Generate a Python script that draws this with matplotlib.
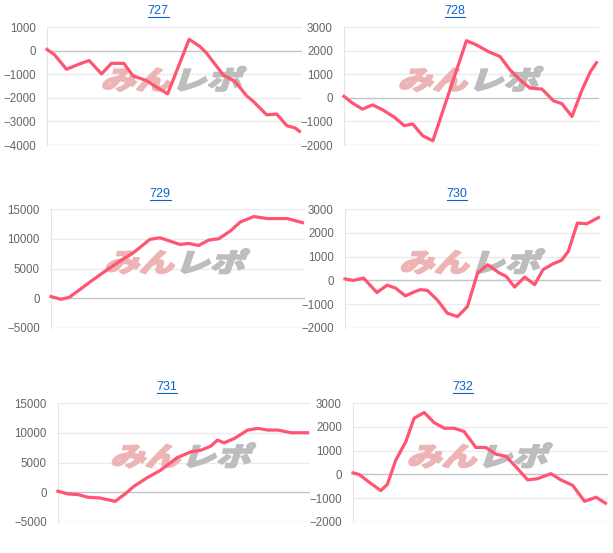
import matplotlib
matplotlib.use("Agg")
import matplotlib.pyplot as plt
from matplotlib.textpath import TextPath
from matplotlib.font_manager import FontProperties
from matplotlib.patches import PathPatch
from matplotlib.path import Path
from matplotlib.transforms import Affine2D, IdentityTransform
from matplotlib.lines import Line2D

W, H = 613, 553

# machine numbers
names = ["727", "728", "729", "730", "731", "732"]

# x: progress through the day (0-100), y: coin difference
x727 = [0, 3, 7.7, 13, 16.7, 21.6, 25.5, 30.4, 34.1, 39.4, 43.4, 47.8, 56.3, 60.6,
        63.2, 69.8, 74.5, 79.1, 81.7, 87, 91, 95, 98.3, 100]
y727 = [50, -180, -790, -560, -420, -990, -540, -540, -1070, -1270, -1550, -1830, 480, 170,
        -110, -1030, -1310, -1920, -2150, -2720, -2690, -3180, -3280, -3420]

x728 = [0, 3.3, 7.3, 11.3, 15.3, 19.9, 23.9, 27.2, 31.2, 35.2, 48.5, 52.5, 57.1, 61.8,
        65.7, 69.7, 73.7, 78.4, 83.0, 86.3, 90.3, 94.3, 97.6, 100]
y728 = [60, -220, -480, -300, -510, -820, -1180, -1110, -1610, -1820, 2420, 2240, 1960, 1750,
        1190, 760, 410, 370, -130, -250, -790, 340, 1110, 1490]

x729 = [0, 4, 7.3, 11.3, 16.7, 22, 27.3, 32.7, 39.3, 43.3, 47.3, 51.3, 54.7, 58.7,
        62.7, 66.7, 71.3, 75.3, 80.7, 86, 94, 100]
y729 = [280, -170, 170, 1410, 3100, 4690, 6210, 7630, 9890, 10170, 9600, 9040, 9210, 8870,
        9770, 10000, 11300, 12830, 13730, 13390, 13390, 12710]

x730 = [0, 3.3, 7.3, 12.6, 16.6, 19.9, 23.8, 27.8, 29.8, 32.5, 36.4, 40.4, 44.4, 48.3,
        52.3, 56.3, 60.9, 63.6, 66.9, 70.9, 74.8, 78.1, 82.1, 85.4, 88.1, 91.7, 95.4, 100]
y730 = [60, 0, 100, -510, -200, -320, -650, -460, -390, -420, -820, -1380, -1520, -1100,
        310, 660, 310, 170, -280, 140, -180, 450, 700, 840, 1220, 2410, 2380, 2640]

x731 = [0, 4, 8.1, 12.1, 16.8, 22.9, 26.9, 30.3, 35.7, 41, 47.8, 53.2, 57.2, 61.2,
        63.9, 66.6, 70.7, 76, 80.1, 84.1, 88.2, 93.5, 100]
y731 = [170, -280, -400, -850, -960, -1530, -280, 960, 2430, 3670, 5820, 6780, 7060, 7740,
        8760, 8310, 9040, 10450, 10730, 10450, 10450, 10000, 10000]

x732 = [0, 2.4, 6.3, 11, 13.6, 16.9, 20.9, 24.2, 28.2, 32.1, 36.1, 40.1, 44, 48.7,
        52.6, 56.6, 60.6, 64.6, 69.2, 73.1, 78.4, 82.3, 87, 91.7, 96.3, 100]
y732 = [60, 0, -320, -680, -420, 590, 1370, 2360, 2600, 2180, 1940, 1940, 1800, 1130,
        1130, 850, 760, 310, -230, -180, 30, -230, -460, -1130, -960, -1210]

series = [(x727, y727), (x728, y728), (x729, y729), (x730, y730), (x731, y731), (x732, y732)]
ylims = [(-4000, 1000, 1000), (-2000, 3000, 1000), (-5000, 15000, 5000),
         (-2000, 3000, 1000), (-5000, 15000, 5000), (-2000, 3000, 1000)]

# layout in pixels: axes left, right, top, bottom; title x, y
boxes = [(47, 302, 27, 145), (344, 599, 27, 145), (51, 305, 209, 328),
         (345, 601, 209, 328), (58, 310, 403, 522), (353, 608, 403, 522)]
titles = [(158, 11), (455, 11), (160, 194), (457, 194), (167, 387), (463, 387)]

LINE = "#ff5472"
BLUE = "#0b63c9"

plt.rcParams["font.family"] = ["Liberation Sans", "DejaVu Sans"]

fig = plt.figure(figsize=(W / 100, H / 100), dpi=100)
fig.patch.set_facecolor("white")

# watermark glyphs
wm_fp = FontProperties(family="Noto Sans CJK JP", weight="black")
p1 = TextPath((0, 0), "みん", prop=wm_fp, size=32)
w1 = p1.get_extents().x1
p2 = TextPath((w1 + 2, 0), "レポ", prop=wm_fp, size=32)
skew = Affine2D().skew_deg(14, 0)
p1 = skew.transform_path(p1)
p2 = skew.transform_path(p2)
ext = Path.make_compound_path(p1, p2).get_extents()


def watermark(ax, l, r, t, b):
    cx = (l + r) / 2
    cy = H - (t + 0.44 * (b - t))
    sx = 143 / ext.width
    sy = 25 / ext.height
    tr = (Affine2D().translate(-ext.x0 - ext.width / 2, -ext.y0 - ext.height / 2)
          .scale(sx, sy).translate(cx, cy))
    for p, c in ((p1, "#ecb4b4"), (p2, "#bdbdbd")):
        ax.add_patch(PathPatch(tr.transform_path(p), transform=IdentityTransform(),
                               facecolor=c, edgecolor=c, lw=1.2, zorder=1))


renderer = fig.canvas.get_renderer()

for i, ((xs, ys), (lo, hi, step), (l, r, t, b)) in enumerate(zip(series, ylims, boxes)):
    ax = fig.add_axes([l / W, 1 - b / H, (r - l) / W, (b - t) / H])
    ax.set_xlim(0, 101)
    ax.set_ylim(lo, hi)
    ax.set_yticks(range(lo, hi + 1, step))
    ax.set_xticks([])
    for s in ["top", "right", "bottom"]:
        ax.spines[s].set_visible(False)
    ax.spines["left"].set_color("#e4e4e4")
    ax.tick_params(axis="y", length=0, pad=8, labelsize=8.3, labelcolor="#666666")
    for v in range(lo, hi + 1, step):
        if v == 0:
            c = "#c4c4c4"
        elif v == lo:
            c = "#dcdcdc"
        else:
            c = "#ebebeb"
        ax.axhline(v, color=c, lw=1, zorder=0.5)
    watermark(ax, l, r, t, b)
    ax.plot(xs, ys, color=LINE, lw=2.3, solid_joinstyle="round", zorder=3, clip_on=False)

    tx, ty = titles[i]
    txt = fig.text(tx / W, 1 - ty / H, names[i], color=BLUE, fontsize=9,
                   ha="center", va="center")
    bb = txt.get_window_extent(renderer)
    uy = (H - ty - 6) / H
    fig.add_artist(Line2D([bb.x0 / W, bb.x1 / W], [uy, uy], color=BLUE, lw=0.8))

fig.savefig("out.png", dpi=100)
